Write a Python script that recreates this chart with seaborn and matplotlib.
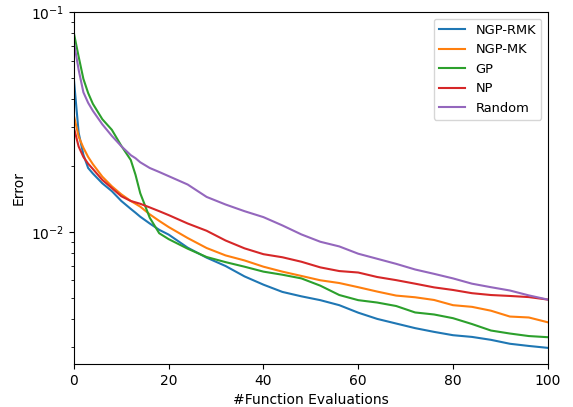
import numpy as np
import pandas as pd
import matplotlib
matplotlib.use("Agg")
import matplotlib.pyplot as plt
import seaborn as sns

# Number of function evaluations at which the error was recorded
evaluations = [0, 1, 2, 3, 4, 6, 8, 10, 12, 13, 14, 16, 18, 20, 24, 28, 32, 36,
               40, 44, 48, 52, 56, 60, 64, 68, 72, 76, 80, 84, 88, 92, 96, 100]

ngp_rmk = [0.0491, 0.0282, 0.0224, 0.0195, 0.0184, 0.0166, 0.0153, 0.0138, 0.0127,
           0.0122, 0.0117, 0.0109, 0.0102, 0.0097, 0.00846, 0.00762, 0.00698, 0.00626,
           0.00574, 0.00532, 0.00508, 0.00488, 0.00463, 0.00428, 0.00401, 0.00382,
           0.00364, 0.0035, 0.00338, 0.00332, 0.00322, 0.00309, 0.00302, 0.00296]

ngp_mk = [0.0337, 0.0271, 0.0241, 0.0219, 0.0203, 0.0178, 0.0161, 0.0148, 0.0138,
          0.0134, 0.0130, 0.0120, 0.0112, 0.0105, 0.00936, 0.00843, 0.0078, 0.0074,
          0.00693, 0.00658, 0.00629, 0.00601, 0.00584, 0.00559, 0.00534, 0.00512,
          0.00503, 0.00489, 0.00463, 0.00455, 0.00437, 0.00411, 0.00407, 0.00387]

gp = [0.0800, 0.0626, 0.0496, 0.0428, 0.0382, 0.0325, 0.0291, 0.0246, 0.0212,
      0.01815, 0.01496, 0.01158, 0.00984, 0.00925, 0.00837, 0.00767, 0.00727, 0.00693,
      0.00658, 0.00637, 0.00613, 0.00568, 0.00515, 0.00488, 0.00476, 0.00459,
      0.00429, 0.0042, 0.00404, 0.0038, 0.00355, 0.00344, 0.00335, 0.00331]

np_model = [0.0297, 0.0244, 0.0219, 0.0204, 0.0193, 0.0172, 0.0158, 0.0145, 0.0138,
            0.0136, 0.0134, 0.0129, 0.0124, 0.0119, 0.0109, 0.0101, 0.00912, 0.0084,
            0.0079, 0.00765, 0.0073, 0.00688, 0.00662, 0.00652, 0.00622, 0.00602,
            0.0058, 0.00558, 0.00543, 0.00525, 0.00515, 0.0051, 0.00504, 0.00491]

random_search = [0.0730, 0.0545, 0.0431, 0.0386, 0.0355, 0.0308, 0.0273, 0.0245, 0.0223,
                 0.0216, 0.0207, 0.0195, 0.0187, 0.0179, 0.0164, 0.0144, 0.0133, 0.0124,
                 0.01165, 0.01068, 0.00972, 0.0090, 0.00857, 0.00794, 0.00753, 0.00714,
                 0.00673, 0.00643, 0.00613, 0.0058, 0.00559, 0.0054, 0.00513, 0.00491]

methods = ["NGP-RMK", "NGP-MK", "GP", "NP", "Random"]
series = [ngp_rmk, ngp_mk, gp, np_model, random_search]

df = pd.concat(
    [pd.DataFrame({"evals": evaluations, "error": vals, "method": name})
     for name, vals in zip(methods, series)],
    ignore_index=True,
)

fig = plt.figure(figsize=(5.73, 4.07), dpi=100)
ax = fig.add_axes([0.129, 0.1057, 0.827, 0.8648])

sns.lineplot(data=df, x="evals", y="error", hue="method", hue_order=methods,
             palette=sns.color_palette("tab10", 5), linewidth=1.5, ax=ax)

ax.set_yscale("log")
ax.set_xlim(0, 100)
ax.set_ylim(0.0025, 0.1)
ax.set_xlabel("#Function Evaluations")
ax.set_ylabel("Error")

handles, labels = ax.get_legend_handles_labels()
ax.legend(handles, labels, loc="upper right", fontsize=9.4)

fig.savefig("out.png", dpi=100)
